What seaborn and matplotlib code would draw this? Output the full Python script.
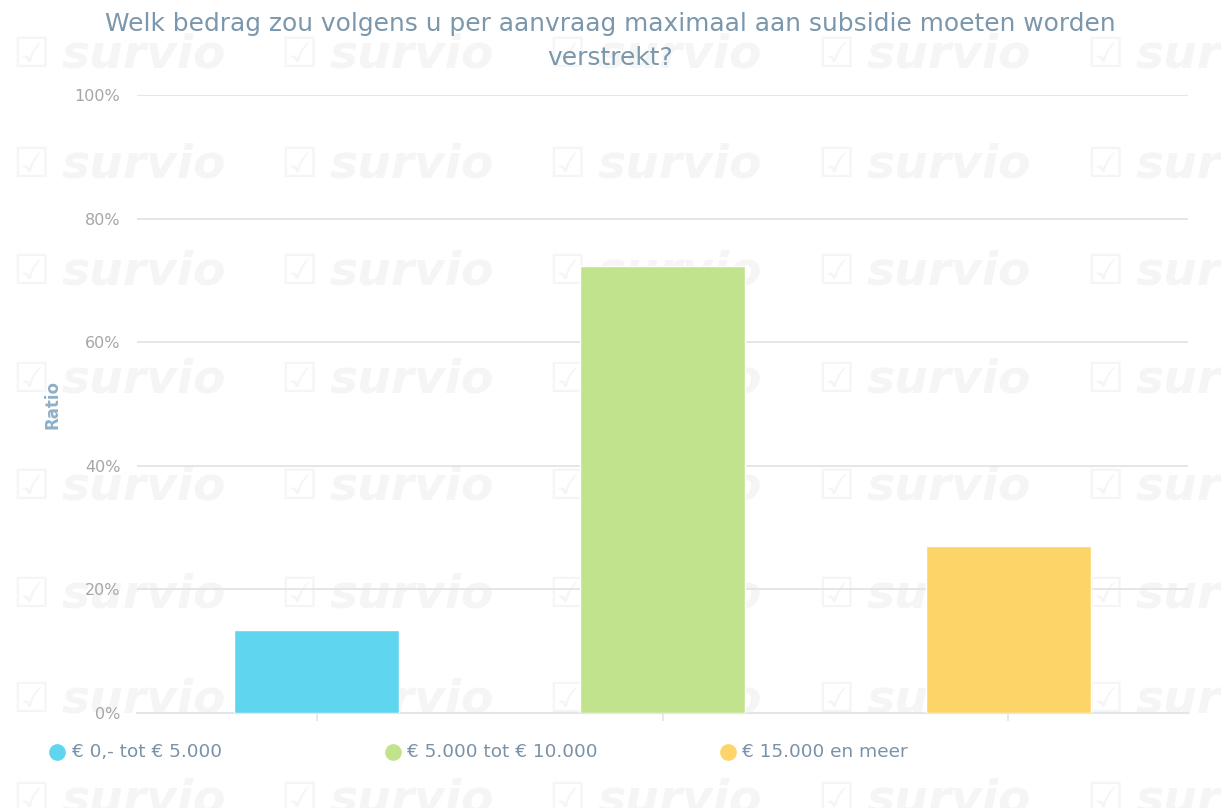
import matplotlib
matplotlib.use("Agg")
import matplotlib.pyplot as plt
from matplotlib.lines import Line2D
from matplotlib.ticker import PercentFormatter
import seaborn as sns
import pandas as pd

title = "Welk bedrag zou volgens u per aanvraag maximaal aan subsidie moeten worden\nverstrekt?"
categories = ["€ 0,- tot € 5.000", "€ 5.000 tot € 10.000", "€ 15.000 en meer"]
ratios = [13.4, 72.3, 27.1]
colors = ["#5fd5f0", "#c1e38d", "#fcd467"]
yticks = [0, 20, 40, 60, 80, 100]

sns.set_theme(style="white")
plt.rcParams['font.family'] = ['DejaVu Sans']

df = pd.DataFrame({"cat": categories, "ratio": ratios})

fig = plt.figure(figsize=(12.21, 8.08), dpi=100)

# survio watermark in a background axes (pixel coords)
bg = fig.add_axes([0, 0, 1, 1], zorder=-1)
bg.set_xlim(0, 1221)
bg.set_ylim(808, 0)
bg.axis("off")
for wy in [55, 165, 272, 380, 487, 595, 700, 800]:
    for wx in [12, 280, 548, 817, 1086]:
        bg.text(wx, wy, "\u2611", fontsize=30, color="#f5f5f5",
                va="center", ha="left", clip_on=True)
        bg.text(wx + 50, wy, "survio", fontsize=34, color="#f5f5f5",
                fontweight="bold", fontstyle="italic", va="center", ha="left",
                clip_on=True)

ax = fig.add_axes([0.1122, 0.1176, 0.8608, 0.7644])
ax.patch.set_alpha(0)
sns.barplot(data=df, x="cat", y="ratio", hue="cat", palette=colors,
            width=0.477, legend=False, ax=ax, zorder=3, saturation=1)

ax.set_xlim(-0.519, 2.519)
ax.set_ylim(0, 100)
ax.set_yticks(yticks)
ax.yaxis.set_major_formatter(PercentFormatter(decimals=0))
ax.grid(axis="y", color="#e2e2e2", linewidth=1.2, zorder=0)
ax.set_axisbelow(True)
for s in ["top", "right", "left"]:
    ax.spines[s].set_visible(False)
ax.spines["bottom"].set_color("#dfe6ec")
ax.spines["bottom"].set_linewidth(1.5)
ax.tick_params(axis="y", length=0, labelsize=11.5, labelcolor="#a6a6a6", pad=12)
ax.tick_params(axis="x", length=6, color="#dfe6ec", bottom=True, labelbottom=False)
ax.set_xlabel("")
ax.set_ylabel("Ratio", color="#8fb0c8", fontsize=12, fontweight="bold")
ax.yaxis.set_label_coords(-0.072, 0.5)

fig.text(0.5, 0.949, title, ha="center", va="center", fontsize=17.9,
         color="#7b97ac", linespacing=1.55)

# legend
for i, (lab, c) in enumerate(zip(categories, colors)):
    x0 = 0.047 + i * 0.2745
    fig.add_artist(Line2D([x0], [0.069], marker="o", markersize=11, color=c,
                          linestyle="none", transform=fig.transFigure))
    fig.text(x0 + 0.012, 0.069, lab, ha="left", va="center", fontsize=13.3,
             color="#7a92a8")

fig.savefig("out.png", dpi=100)
